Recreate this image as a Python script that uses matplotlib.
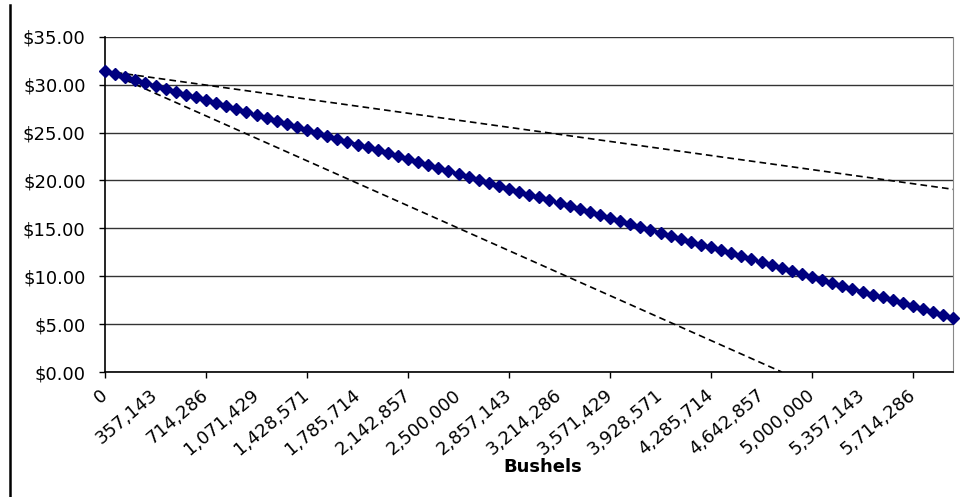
import matplotlib
matplotlib.use("Agg")
import matplotlib.pyplot as plt
from matplotlib.lines import Line2D

# ── data ─────────────────────────────────────────────────────────────────────
# price per bushel at each of the 85 quantity steps (0 .. 6,000,000 bushels)
price = [31.43, 31.12, 30.82, 30.51, 30.20, 29.89, 29.59, 29.28, 28.97, 28.67,
         28.36, 28.05, 27.74, 27.44, 27.13, 26.82, 26.52, 26.21, 25.90, 25.59,
         25.29, 24.98, 24.67, 24.37, 24.06, 23.75, 23.44, 23.14, 22.83, 22.52,
         22.22, 21.91, 21.60, 21.29, 20.99, 20.68, 20.37, 20.07, 19.76, 19.45,
         19.14, 18.84, 18.53, 18.22, 17.92, 17.61, 17.30, 16.99, 16.69, 16.38,
         16.07, 15.77, 15.46, 15.15, 14.84, 14.54, 14.23, 13.92, 13.62, 13.31,
         13.00, 12.69, 12.39, 12.08, 11.77, 11.47, 11.16, 10.85, 10.54, 10.24,
         9.93, 9.62, 9.32, 9.01, 8.70, 8.39, 8.09, 7.78, 7.47, 7.17,
         6.86, 6.55, 6.24, 5.94, 5.63]

# dashed comparison lines: (step index, price) at their two ends
flat_idx,  flat_price  = [0, 84], [31.43, 19.07]
steep_idx, steep_price = [0, 67], [31.43, 0.0]

# category labels, one every 5 steps
tick_labels = ["0", "357,143", "714,286", "1,071,429", "1,428,571",
               "1,785,714", "2,142,857", "2,500,000", "2,857,143",
               "3,214,286", "3,571,429", "3,928,571", "4,285,714",
               "4,642,857", "5,000,000", "5,357,143", "5,714,286"]
y_ticks = [0, 5, 10, 15, 20, 25, 30, 35]

# ── figure ───────────────────────────────────────────────────────────────────
plt.rcParams["font.family"] = ["DejaVu Sans"]
fig = plt.figure(figsize=(9.69, 4.97), dpi=100)
ax = fig.add_axes([0.1084, 0.2515, 0.8756, 0.6745])

steps = list(range(len(price)))
ax.plot(flat_idx, flat_price, color="black", lw=1.2, ls=(0, (4, 2.5)), zorder=3)
ax.plot(steep_idx, steep_price, color="black", lw=1.2, ls=(0, (4, 2.5)), zorder=3)
ax.plot(steps, price, color="#000080", lw=2, marker="D", markersize=6.5,
        markeredgecolor="#000080", zorder=4, clip_on=False)

ax.set_xlim(0, len(price) - 1)
ax.set_ylim(0, 35)

# y axis: dollar labels + horizontal grid
ax.set_yticks(y_ticks, [f"${v:.2f}" for v in y_ticks])
ax.yaxis.grid(True, color="#333333", lw=1)
ax.set_axisbelow(True)
ax.tick_params(axis="y", direction="out", length=4, width=1, pad=10,
               labelsize=13, colors="black")

# x axis: tick marks every 10 steps, labels every 5 steps
ax.xaxis.remove_overlapping_locs = False
ax.set_xticks(list(range(0, 81, 10)))
ax.set_xticklabels([])
ax.set_xticks(list(range(0, 81, 5)), tick_labels, minor=True,
              rotation=40, ha="right", va="center", rotation_mode="anchor")
ax.tick_params(axis="x", which="major", direction="out", length=4, width=1)
ax.tick_params(axis="x", which="minor", length=0, pad=15, labelsize=13)

for side in ["left", "bottom"]:
    ax.spines[side].set_color("black")
    ax.spines[side].set_linewidth(1.2)
ax.spines["right"].set_color("#888888")
ax.spines["top"].set_visible(False)

fig.text(543 / 969, 1 - 467 / 497, "Bushels", fontsize=13, fontweight="bold",
         ha="center", va="center")

# chart-area border on the left
fig.add_artist(Line2D([9.5 / 969, 9.5 / 969], [0, 1 - 5 / 497],
                      transform=fig.transFigure, color="black", lw=1.8))

fig.savefig("out.png", dpi=100)
